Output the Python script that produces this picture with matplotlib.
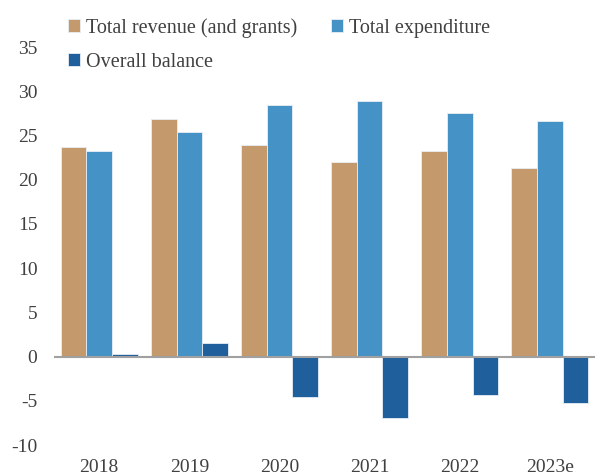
import matplotlib.pyplot as plt
import numpy as np

years = ["2018", "2019", "2020", "2021", "2022", "2023e"]
revenue = [23.7, 26.9, 23.9, 22.0, 23.3, 21.3]
expenditure = [23.3, 25.4, 28.5, 28.9, 27.6, 26.6]
balance = [0.3, 1.5, -4.6, -6.9, -4.3, -5.2]

labels = ["Total revenue (and grants)", "Total expenditure", "Overall balance"]
colors = ["#C4996B", "#4593C6", "#1F5F9B"]
TEXT = "#404040"


def main():
    plt.rcParams["font.family"] = ["Liberation Serif", "DejaVu Serif"]
    plt.rcParams["axes.unicode_minus"] = False

    fig = plt.figure(figsize=(5.95, 4.76), dpi=100)
    ax = fig.add_axes([0.091, 0.065, 0.909, 0.836])

    x = np.arange(len(years))
    w = 0.285
    handles = []
    for i, (vals, col, lab) in enumerate(zip([revenue, expenditure, balance], colors, labels)):
        b = ax.bar(x + (i - 1) * w, vals, width=w, color=col, label=lab,
                   edgecolor="#E8EEF4", linewidth=0.6)
        handles.append(b)

    ax.axhline(0, color="#A0A0A0", linewidth=1.5, zorder=3)
    ax.set_xlim(-0.5, len(years) - 0.5)
    ax.set_ylim(-10, 35)
    ax.set_yticks(np.arange(-10, 36, 5))
    ax.set_xticks(x)
    ax.set_xticklabels(years)
    ax.tick_params(length=0, labelsize=14, labelcolor=TEXT)
    ax.tick_params(axis="x", pad=10)
    ax.tick_params(axis="y", pad=12)
    for s in ax.spines.values():
        s.set_visible(False)

    # legend fills column-wise, so reorder to get rev/exp on the first row
    order = [0, 2, 1]
    fig.legend(handles=[handles[k] for k in order], labels=[labels[k] for k in order],
               ncol=2, frameon=False,
               loc="upper left", bbox_to_anchor=(0.083, 1.0),
               fontsize=14.5, labelcolor=TEXT, handlelength=0.6, handleheight=0.6,
               handletextpad=0.3, columnspacing=1.7, labelspacing=0.75)

    fig.savefig("out.png", dpi=100)


if __name__ == "__main__":
    main()
